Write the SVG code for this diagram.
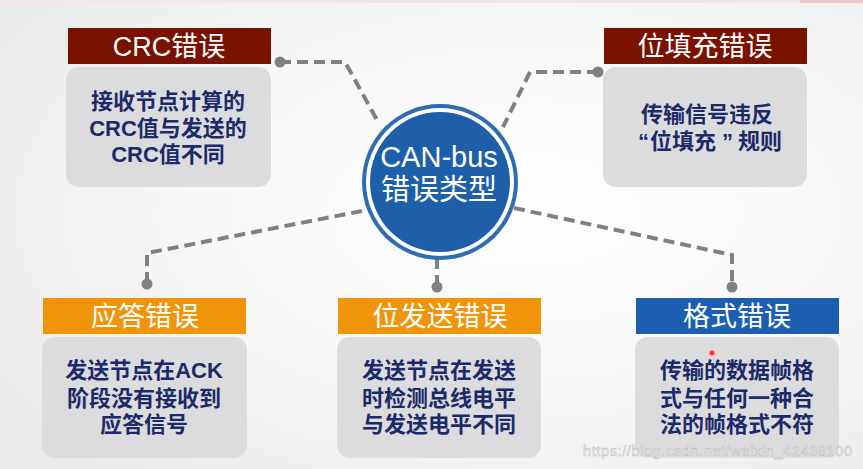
<svg xmlns="http://www.w3.org/2000/svg" width="863" height="469" viewBox="0 0 863 469">
  <defs>
    <radialGradient id="bg" cx="0.62" cy="0.45" r="0.75">
      <stop offset="0" stop-color="#ffffff"/>
      <stop offset="0.55" stop-color="#f7f7f7"/>
      <stop offset="1" stop-color="#e9e9ea"/>
    </radialGradient>
    <style>
      .hdr-text { font-family: "Liberation Sans", "Noto Sans CJK SC", sans-serif; font-size: 27px; fill: #ffffff; text-anchor: middle; }
      .body { fill: #dcdcdf; }
      .body-text { font-family: "Liberation Sans", "Noto Sans CJK SC", sans-serif; font-size: 22px; font-weight: 700; fill: #1b2a68; text-anchor: middle; }
      .conn { fill: none; stroke: #808080; stroke-width: 4; stroke-dasharray: 11 6; }
      .dot { fill: #808080; }
      .center-text { font-family: "Liberation Sans", "Noto Sans CJK SC", sans-serif; font-size: 29px; fill: #ffffff; text-anchor: middle; }
    </style>
  </defs>

  <rect x="0" y="0" width="863" height="469" fill="url(#bg)"/>
  <rect x="0" y="0" width="863" height="3" fill="#f3e6e6"/>
  <rect x="800" y="0" width="63" height="3" fill="#e9c8c8"/>

  <g id="connectors">
    <path class="conn" d="M280 62 H345 L377 120"/>
    <path class="conn" d="M598 72 H530 L503 127"/>
    <path class="conn" d="M362 211 L147 253 V282"/>
    <path class="conn" d="M437 258 V284"/>
    <path class="conn" d="M514 208 L732 255 V284"/>
    <circle class="dot" cx="280" cy="62" r="5.5"/>
    <circle class="dot" cx="598" cy="72" r="5.5"/>
    <circle class="dot" cx="147" cy="284" r="5.5"/>
    <circle class="dot" cx="437" cy="287" r="5.5"/>
    <circle class="dot" cx="732" cy="287" r="5.5"/>
  </g>

  <g id="center">
    <circle cx="440" cy="182" r="78" fill="#2f6db3"/>
    <circle cx="440" cy="182" r="74" fill="#ffffff"/>
    <circle cx="440" cy="182" r="70" fill="#1e5fa9"/>
    <text class="center-text" x="439" y="167">CAN-bus</text>
    <text class="center-text" x="439" y="200">错误类型</text>
  </g>

  <g id="crc">
    <rect x="68" y="28" width="203" height="36" fill="#7a1200"/>
    <text class="hdr-text" x="169" y="56">CRC错误</text>
    <rect class="body" x="66" y="67" width="205" height="120" rx="13"/>
    <text class="body-text" x="168" y="109">接收节点计算的</text>
    <text class="body-text" x="168" y="135.5">CRC值与发送的</text>
    <text class="body-text" x="168" y="162">CRC值不同</text>
  </g>

  <g id="stuff">
    <rect x="604" y="28" width="203" height="36" fill="#7a1200"/>
    <text class="hdr-text" x="705" y="56">位填充错误</text>
    <rect class="body" x="603" y="67" width="204" height="120" rx="13"/>
    <text class="body-text" x="707" y="122">传输信号违反</text>
    <text class="body-text" style="text-anchor:start" y="149"><tspan x="638">“</tspan><tspan x="650">位填充</tspan><tspan x="722">”</tspan><tspan x="738">规则</tspan></text>
  </g>

  <g id="ack">
    <rect x="43" y="298" width="203" height="36" fill="#f0950a"/>
    <text class="hdr-text" x="145" y="326">应答错误</text>
    <rect class="body" x="42" y="337" width="205" height="121" rx="13"/>
    <text class="body-text" x="144" y="378">发送节点在ACK</text>
    <text class="body-text" x="144" y="406">阶段没有接收到</text>
    <text class="body-text" x="144" y="432">应答信号</text>
  </g>

  <g id="bit">
    <rect x="338" y="298" width="203" height="36" fill="#f0950a"/>
    <text class="hdr-text" x="440" y="326">位发送错误</text>
    <rect class="body" x="337" y="337" width="204" height="121" rx="13"/>
    <text class="body-text" x="439" y="378">发送节点在发送</text>
    <text class="body-text" x="439" y="406">时检测总线电平</text>
    <text class="body-text" x="439" y="432">与发送电平不同</text>
  </g>

  <g id="form">
    <rect x="636" y="298" width="203" height="36" fill="#1c5fb0"/>
    <text class="hdr-text" x="737" y="326">格式错误</text>
    <rect class="body" x="635" y="337" width="204" height="121" rx="13"/>
    <text class="body-text" x="737" y="378">传输的数据帧格</text>
    <text class="body-text" x="737" y="406">式与任何一种合</text>
    <text class="body-text" x="737" y="432">法的帧格式不符</text>
    <circle cx="712" cy="353" r="3" fill="#ff2a2a" stroke="#ffb0b0" stroke-width="1.5"/>
  </g>

  <text x="583" y="456" font-family="Liberation Sans, Arial, sans-serif" font-size="14.5" fill="#f4f4f4" stroke="#b8b8b8" stroke-width="0.5" textLength="269">https://blog.csdn.net/weixin_42438100</text>
</svg>
